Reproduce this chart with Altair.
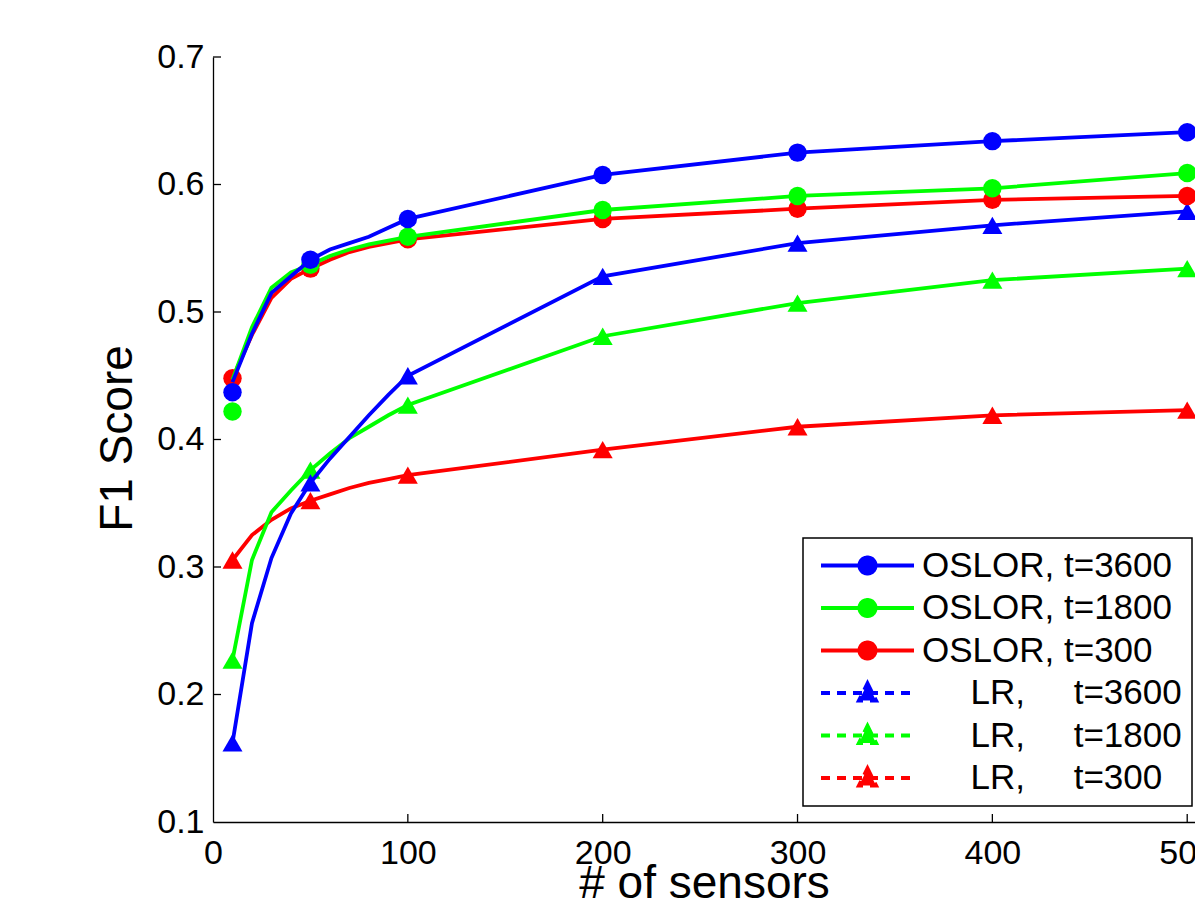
import altair as alt
import pandas as pd

# ---------------- data ----------------
x_line = [10, 20, 30, 40, 50, 60, 70, 80, 90, 100, 200, 300, 400, 500]
x_mark = [10, 50, 100, 200, 300, 400, 500]

NB = "\u00a0"
ZW = "\u200b"
series = [
    "OSLOR, t=3600",
    "OSLOR, t=1800",
    "OSLOR, t=300",
    ZW + NB * 5 + "LR," + NB * 5 + "t=3600",
    ZW + NB * 5 + "LR," + NB * 5 + "t=1800",
    ZW + NB * 5 + "LR," + NB * 5 + "t=300",
]
colors = ["#0000ff", "#00ff00", "#ff0000", "#0000ff", "#00ff00", "#ff0000"]

# line values (at x_line)
oslor_3600_line = [0.445, 0.483, 0.515, 0.528, 0.541, 0.549, 0.554, 0.559, 0.566, 0.573, 0.6075, 0.625, 0.634, 0.641]
oslor_1800_line = [0.447, 0.488, 0.519, 0.531, 0.537, 0.544, 0.549, 0.553, 0.556, 0.559, 0.580, 0.591, 0.597, 0.609]
oslor_300_line = [0.448, 0.482, 0.511, 0.526, 0.534, 0.541, 0.547, 0.551, 0.554, 0.557, 0.573, 0.581, 0.588, 0.591]
lr_3600_line = [0.162, 0.256, 0.307, 0.342, 0.366, 0.385, 0.402, 0.419, 0.435, 0.450, 0.528, 0.554, 0.568, 0.579]
lr_1800_line = [0.227, 0.3055, 0.343, 0.360, 0.376, 0.389, 0.401, 0.410, 0.419, 0.427, 0.481, 0.507, 0.525, 0.534]
lr_300_line = [0.3055, 0.325, 0.337, 0.346, 0.352, 0.357, 0.362, 0.366, 0.369, 0.372, 0.392, 0.410, 0.419, 0.423]

# marker values (at x_mark)
oslor_3600_mark = [0.437, 0.541, 0.573, 0.6075, 0.625, 0.634, 0.641]
oslor_1800_mark = [0.422, 0.537, 0.559, 0.580, 0.591, 0.597, 0.609]
oslor_300_mark = [0.448, 0.534, 0.557, 0.573, 0.581, 0.588, 0.591]
lr_3600_mark = [0.162, 0.366, 0.450, 0.528, 0.554, 0.568, 0.579]
lr_1800_mark = [0.227, 0.376, 0.427, 0.481, 0.507, 0.525, 0.534]
lr_300_mark = [0.3055, 0.352, 0.372, 0.392, 0.410, 0.419, 0.423]

x_ticks = [0, 100, 200, 300, 400, 500]
y_ticks = [0.1, 0.2, 0.3, 0.4, 0.5, 0.6, 0.7]

line_vals = [oslor_3600_line, oslor_1800_line, oslor_300_line, lr_3600_line, lr_1800_line, lr_300_line]
mark_vals = [oslor_3600_mark, oslor_1800_mark, oslor_300_mark, lr_3600_mark, lr_1800_mark, lr_300_mark]

line_rows, mark_rows = [], []
for s, ys in zip(series, line_vals):
    for i, (xv, yv) in enumerate(zip(x_line, ys)):
        line_rows.append({"x": xv, "y": yv, "series": s, "o": i})
for s, ys in zip(series, mark_vals):
    for xv, yv in zip(x_mark, ys):
        mark_rows.append({"x": xv, "y": yv, "series": s})
line_df = pd.DataFrame(line_rows)
mark_df = pd.DataFrame(mark_rows)
xt_df = pd.DataFrame({"x": x_ticks[1:]})
yt_df = pd.DataFrame({"y": y_ticks[1:]})

# ---------------- styling ----------------
FONT = "Liberation Sans"
W, H = 982, 765
XMAX = 504

# legend symbols: unit = 10 px (symbol size 400)
circle_path = "M-4.65,0L4.65,0M0.8,0A0.8,0.8,0,1,1,-0.8,0A0.8,0.8,0,1,1,0.8,0Z"
tri_path = "M-4.65,0L4.65,0M0,-0.95L0.85,0.75L-0.85,0.75Z"
shapes = [circle_path] * 3 + [tri_path] * 3
dashes = [[1, 0]] * 3 + [[9, 7]] * 3

legend = alt.Legend(
    title=None,
    orient="none",
    legendX=590,
    legendY=481,
    padding=10,
    rowPadding=6.5,
    strokeColor="black",
    fillColor="white",
    labelFont=FONT,
    labelFontSize=35,
    labelColor="black",
    labelLimit=500,
    labelOffset=37,
    symbolSize=400,
    symbolStrokeWidth=4,
    symbolOffset=37,
    symbolOpacity=1,
)

xscale = alt.Scale(domain=[0, XMAX], nice=False, zero=False)
yscale = alt.Scale(domain=[0.1, 0.7], nice=False, zero=False)

xaxis = alt.Axis(
    values=x_ticks, format="d", ticks=False, tickSize=0, grid=False,
    labelFont=FONT, labelFontSize=34, labelColor="black", labelPadding=14,
    labelFlush=False, labelOverlap=False, labelBound=False,
    domainColor="black", domainWidth=1.3,
    title="# of sensors", titleFont=FONT, titleFontSize=46, titleFontWeight="normal",
    titleColor="black", titleX=491, titleY=75, titleBaseline="alphabetic", titleAlign="center",
)
yaxis = alt.Axis(
    values=y_ticks, format=".1f", ticks=False, tickSize=0, grid=False,
    labelFont=FONT, labelFontSize=34, labelColor="black", labelPadding=9,
    labelFlush=False, labelOverlap=False, labelBound=False,
    domainColor="black", domainWidth=1.3,
    title="F1 Score", titleFont=FONT, titleFontSize=46, titleFontWeight="normal",
    titleColor="black", titleAngle=270, titleX=-82, titleY=381,
    titleBaseline="alphabetic", titleAlign="center",
)

X = lambda: alt.X("x:Q", scale=xscale, axis=xaxis)
Y = lambda: alt.Y("y:Q", scale=yscale, axis=yaxis)

base_line = alt.Chart(line_df)
base_mark = alt.Chart(mark_df)

layers = []
# draw order: LR red, green, blue, then OSLOR red, green, blue
draw_order = [5, 4, 3, 2, 1, 0]
for idx in draw_order:
    s = series[idx]
    col = colors[idx]
    shape = "circle" if idx < 3 else "triangle-up"
    size = 340 if idx < 3 else 400
    ln = base_line.transform_filter(alt.datum.series == s).mark_line(
        strokeWidth=3.8, color=col
    ).encode(x=X(), y=Y(), order="o:Q")
    pt = base_mark.transform_filter(alt.datum.series == s).mark_point(
        shape=shape, filled=True, size=size, opacity=1, color=col
    ).encode(x=X(), y=Y())
    layers += [ln, pt]

# invisible layer that carries the legend (fill, stroke, shape, dash by series)
legend_layer = base_mark.mark_point(filled=True, opacity=0, size=1).encode(
    x=X(),
    y=Y(),
    fill=alt.Fill("series:N", scale=alt.Scale(domain=series, range=colors), legend=legend),
    stroke=alt.Stroke("series:N", scale=alt.Scale(domain=series, range=colors), legend=legend),
    shape=alt.Shape("series:N", scale=alt.Scale(domain=series, range=shapes), legend=legend),
    strokeDash=alt.StrokeDash("series:N", scale=alt.Scale(domain=series, range=dashes), legend=legend),
)

xt = alt.Chart(xt_df).mark_rule(color="black", strokeWidth=1.3).encode(
    x=X(),
    y=alt.value(H),
    y2=alt.value(H - 8),
)
yt = alt.Chart(yt_df).mark_rule(color="black", strokeWidth=1.3).encode(
    y=Y(),
    x=alt.value(0),
    x2=alt.value(8),
)

chart = alt.layer(*layers, xt, yt, legend_layer).properties(
    width=W,
    height=H,
    autosize=alt.AutoSizeParams(type="none"),
    padding={"left": 205, "top": 49, "right": 0, "bottom": 76},
    background="white",
).configure_view(stroke=None)

try:
    chart2 = chart.configure_legend(strokeWidth=1.5)
    chart2.to_dict()
    chart = chart2
except Exception:
    pass

chart.save("out.html", embed_options={"renderer": "svg", "actions": False})
